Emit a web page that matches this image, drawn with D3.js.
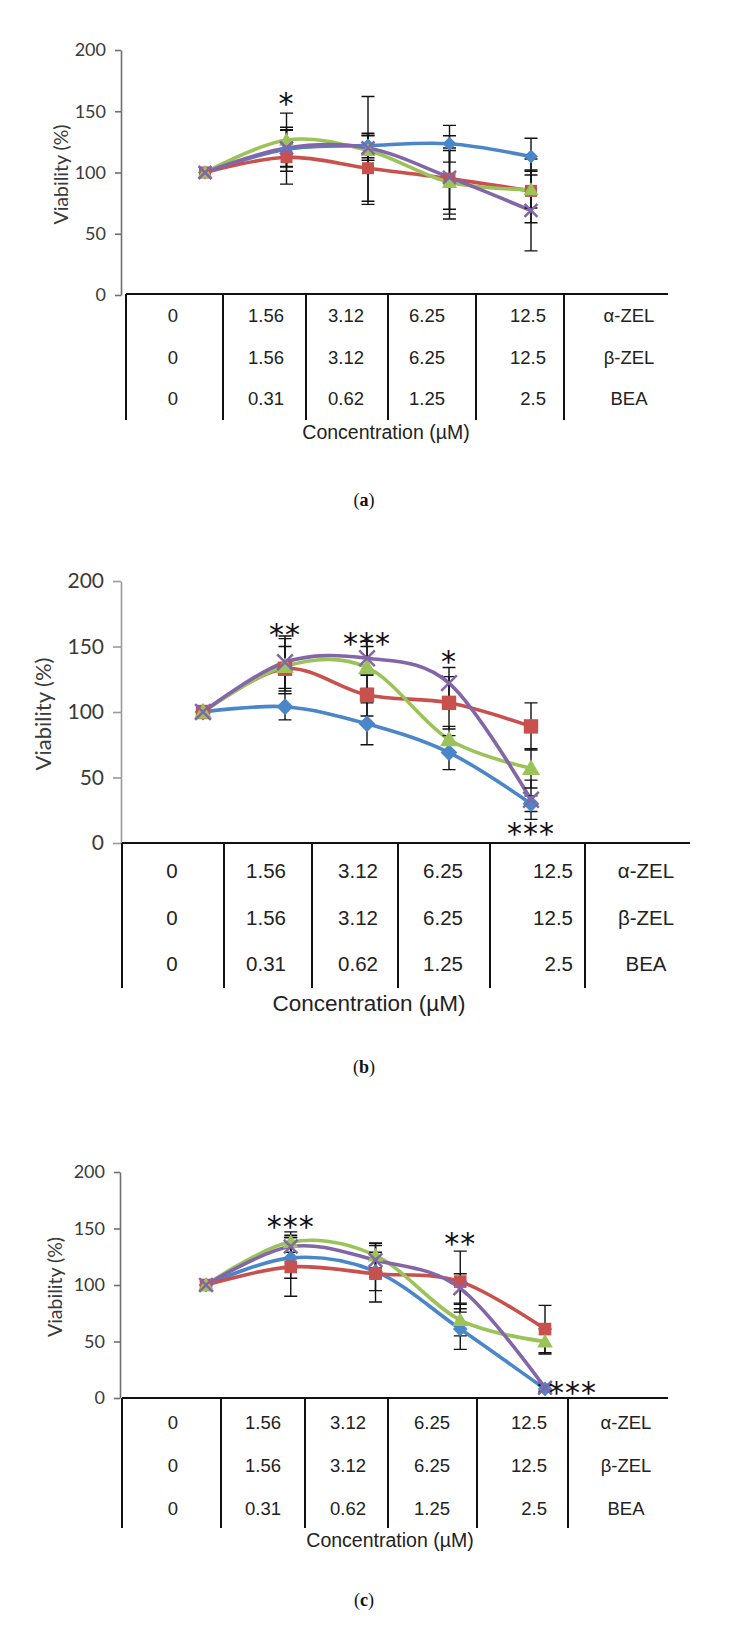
<!DOCTYPE html>
<html>
<head>
<meta charset="utf-8">
<script src="https://cdnjs.cloudflare.com/ajax/libs/d3/7.8.5/d3.min.js"></script>
<style>
  body { margin: 0; background: #fff; }
</style>
</head>
<body>
<svg id="chart"></svg>
<script>
// category labels and table rows
const concentrations = ["0", "1.56", "3.12", "6.25", "12.5"];
const rowLabels = ["α-ZEL", "β-ZEL", "BEA"];
const alphaZelDoses = ["0", "1.56", "3.12", "6.25", "12.5"];
const betaZelDoses = ["0", "1.56", "3.12", "6.25", "12.5"];
const beaDoses = ["0", "0.31", "0.62", "1.25", "2.5"];
const yTicks = [0, 50, 100, 150, 200];

// panel (a) values, mean and sd
const aBlue = [100, 119, 122, 123.5, 113];
const aBlueErr = [0, 18, 10, 15, 15];
const aRed = [100, 112.5, 103.5, 95, 85];
const aRedErr = [0, 22, 27, 25, 26];
const aGreen = [100, 126.5, 118, 92, 86];
const aGreenErr = [0, 22, 44, 26, 15];
const aPurple = [100, 120, 120, 96, 69];
const aPurpleErr = [0, 15, 10, 34, 33];
const aStars = [{ i: 1, v: 161, text: "*" }];

// panel (b)
const bBlue = [100, 104, 91, 69, 30];
const bBlueErr = [0, 10, 16, 13, 6];
const bRed = [100, 133, 113, 107, 89];
const bRedErr = [0, 17, 16, 20, 18];
const bGreen = [100, 135, 134, 79, 57];
const bGreenErr = [0, 21, 16, 10, 15];
const bPurple = [100, 138, 141, 122, 33];
const bPurpleErr = [0, 20, 13, 12, 15];
const bStars = [
  { i: 1, v: 164, text: "**" },
  { i: 2, v: 157, text: "***" },
  { i: 3, v: 143.5, text: "*" },
  { i: 4, v: 12, text: "***" }
];

// panel (c)
const cBlue = [100, 124, 112, 61, 8];
const cBlueErr = [0, 18, 17, 18, 3];
const cRed = [100, 116, 110, 103, 61];
const cRedErr = [0, 26, 25, 27, 21];
const cGreen = [100, 138, 126, 69, 50];
const cGreenErr = [0, 9, 11, 14, 11];
const cPurple = [100, 134, 122, 97, 9];
const cPurpleErr = [0, 10, 15, 13, 3];
const cStars = [
  { i: 1, v: 157.5, text: "***" },
  { i: 3, v: 141.6, text: "**" },
  { i: 4, v: 10, text: "***", right: true }
];

const colors = { blue: "#4A86C8", red: "#C8504D", green: "#9BC35A", purple: "#8366A8" };

function makeSeries(blue, blueErr, red, redErr, green, greenErr, purple, purpleErr) {
  return [
    { values: blue, errs: blueErr, color: colors.blue, marker: "diamond" },
    { values: red, errs: redErr, color: colors.red, marker: "square" },
    { values: green, errs: greenErr, color: colors.green, marker: "triangle" },
    { values: purple, errs: purpleErr, color: colors.purple, marker: "cross" }
  ];
}

const panels = [
  {
    caption: "a",
    series: makeSeries(aBlue, aBlueErr, aRed, aRedErr, aGreen, aGreenErr, aPurple, aPurpleErr),
    stars: aStars,
    axisX: 121, y0: 295, y200: 50, pointRange: [205, 531],
    axisColor: "#6e6e6e", tickFont: 18, tickSize: 6, ylabelX: 60, ylabelFont: 19.5,
    tableTop: 294, lineBottom: 420, tableRight: 668,
    colLines: [126, 223, 306, 388, 476, 564],
    textX: [173, 266, 346, 427, 546, 629],
    rowY: [315, 357, 398], tableFont: 18.5,
    concX: 386, concY: 432, concFont: 19.5,
    captionY: 500, markerScale: 1.0
  },
  {
    caption: "b",
    series: makeSeries(bBlue, bBlueErr, bRed, bRedErr, bGreen, bGreenErr, bPurple, bPurpleErr),
    stars: bStars,
    axisX: 121, y0: 843, y200: 581, pointRange: [203, 531],
    axisColor: "#9a9a9a", tickFont: 21, tickSize: 8, ylabelX: 42, ylabelFont: 22,
    tableTop: 843, lineBottom: 988, tableRight: 690,
    colLines: [122, 224, 312, 398, 490, 585],
    textX: [172, 266, 358, 443, 573, 646],
    rowY: [870, 917, 963], tableFont: 20.5,
    concX: 369, concY: 1003, concFont: 22.5,
    captionY: 1067, markerScale: 1.2
  },
  {
    caption: "c",
    series: makeSeries(cBlue, cBlueErr, cRed, cRedErr, cGreen, cGreenErr, cPurple, cPurpleErr),
    stars: cStars,
    axisX: 120, y0: 1398, y200: 1172, pointRange: [206, 545],
    axisColor: "#6e6e6e", tickFont: 18, tickSize: 6, ylabelX: 54, ylabelFont: 19.5,
    tableTop: 1398, lineBottom: 1528, tableRight: 668,
    colLines: [122, 221, 305, 388, 477, 568],
    textX: [173, 263, 348, 432, 547, 626],
    rowY: [1422, 1465, 1508], tableFont: 18.5,
    concX: 390, concY: 1540, concFont: 19.5,
    captionY: 1600, markerScale: 1.05
  }
];

const svg = d3.select("#chart")
  .attr("width", 736)
  .attr("height", 1649)
  .style("background", "#fff");

const tableRows = [alphaZelDoses, betaZelDoses, beaDoses];

function drawMarker(g, type, x, y, color, k) {
  if (type === "diamond") {
    const r = 7 * k;
    g.append("path").attr("d", `M${x},${y - r}L${x + r},${y}L${x},${y + r}L${x - r},${y}Z`).attr("fill", color);
  } else if (type === "square") {
    const s = 12 * k;
    g.append("rect").attr("x", x - s / 2).attr("y", y - s / 2).attr("width", s).attr("height", s).attr("fill", color);
  } else if (type === "triangle") {
    const s = 7.5 * k;
    g.append("path").attr("d", `M${x},${y - s}L${x + s},${y + s * 0.75}L${x - s},${y + s * 0.75}Z`).attr("fill", color);
  } else {
    const s = 6.5 * k;
    g.append("path").attr("d", `M${x - s},${y - s}L${x + s},${y + s}M${x + s},${y - s}L${x - s},${y + s}`)
      .attr("stroke", color).attr("stroke-width", 2.5).attr("fill", "none");
  }
}

panels.forEach(p => {
  const g = svg.append("g");

  const x = d3.scalePoint().domain(concentrations).range(p.pointRange);
  const y = d3.scaleLinear().domain([0, 200]).range([p.y0, p.y200]);

  // y axis
  const axis = g.append("g")
    .attr("transform", `translate(${p.axisX},0)`)
    .call(d3.axisLeft(y).tickValues(yTicks).tickSize(p.tickSize).tickSizeOuter(0).tickPadding(9));
  axis.select(".domain").attr("stroke", p.axisColor).attr("stroke-width", 1.6);
  axis.selectAll(".tick line").attr("stroke", p.axisColor).attr("stroke-width", 1.6);
  axis.selectAll(".tick text")
    .attr("fill", "#3a3a3a")
    .style("font-family", "Lato, 'Open Sans', sans-serif")
    .style("font-size", p.tickFont + "px");

  g.append("text")
    .attr("transform", `translate(${p.ylabelX},${(p.y0 + p.y200) / 2 + 2}) rotate(-90)`)
    .attr("text-anchor", "middle")
    .attr("dominant-baseline", "central")
    .attr("fill", "#3a3a3a")
    .style("font-family", "Lato, 'Open Sans', sans-serif")
    .style("font-size", p.ylabelFont + "px")
    .text("Viability (%)");

  // category table under the plot
  g.append("line")
    .attr("x1", p.colLines[0]).attr("x2", p.tableRight)
    .attr("y1", p.tableTop).attr("y2", p.tableTop)
    .attr("stroke", "#111").attr("stroke-width", 2);
  p.colLines.forEach(cx => {
    g.append("line")
      .attr("x1", cx).attr("x2", cx)
      .attr("y1", p.tableTop).attr("y2", p.lineBottom)
      .attr("stroke", "#111").attr("stroke-width", 2);
  });
  tableRows.forEach((row, r) => {
    row.concat([rowLabels[r]]).forEach((t, c) => {
      g.append("text")
        .attr("x", p.textX[c])
        .attr("y", p.rowY[r])
        .attr("text-anchor", c === 4 ? "end" : "middle")
        .attr("dominant-baseline", "central")
        .attr("fill", "#222")
        .style("font-family", "'Liberation Sans', Arial, sans-serif")
        .style("font-size", p.tableFont + "px")
        .text(t);
    });
  });
  g.append("text")
    .attr("x", p.concX).attr("y", p.concY)
    .attr("text-anchor", "middle")
    .attr("dominant-baseline", "central")
    .attr("fill", "#222")
    .style("font-family", "'Liberation Sans', Arial, sans-serif")
    .style("font-size", p.concFont + "px")
    .text("Concentration (µM)");

  // smoothed lines
  const line = d3.line()
    .x((d, i) => x(concentrations[i]))
    .y(d => y(d))
    .curve(d3.curveCardinal.tension(0));

  p.series.forEach(s => {
    g.append("path")
      .attr("d", line(s.values))
      .attr("fill", "none")
      .attr("stroke", s.color)
      .attr("stroke-width", 3.6)
      .attr("stroke-linejoin", "round");
  });

  // error bars
  p.series.forEach(s => {
    s.values.forEach((v, i) => {
      const e = s.errs[i];
      if (!e) return;
      const cx = x(concentrations[i]);
      const cap = 6.5;
      g.append("path")
        .attr("d", `M${cx},${y(v - e)}L${cx},${y(v + e)}M${cx - cap},${y(v + e)}L${cx + cap},${y(v + e)}M${cx - cap},${y(v - e)}L${cx + cap},${y(v - e)}`)
        .attr("stroke", "#111").attr("stroke-width", 1.4).attr("fill", "none");
    });
  });

  // markers
  p.series.forEach(s => {
    s.values.forEach((v, i) => {
      drawMarker(g, s.marker, x(concentrations[i]), y(v), s.color, p.markerScale);
    });
  });

  // significance marks
  p.stars.forEach(st => {
    const fs = 30;
    g.append("text")
      .attr("x", x(concentrations[st.i]) + (st.right ? 4 : 0))
      .attr("y", y(st.v) + fs * 0.55)
      .attr("text-anchor", st.right ? "start" : "middle")
      .attr("fill", "#111")
      .style("font-family", "'DejaVu Sans', sans-serif")
      .style("font-size", fs + "px")
      .style("letter-spacing", "1px")
      .text(st.text);
  });

  // caption
  const cap = g.append("text")
    .attr("x", 364).attr("y", p.captionY)
    .attr("text-anchor", "middle")
    .attr("dominant-baseline", "central")
    .attr("fill", "#111")
    .style("font-family", "'Liberation Serif', 'DejaVu Serif', serif")
    .style("font-size", "18px");
  cap.append("tspan").text("(");
  cap.append("tspan").style("font-weight", "bold").text(p.caption);
  cap.append("tspan").text(")");
});
</script>
</body>
</html>
